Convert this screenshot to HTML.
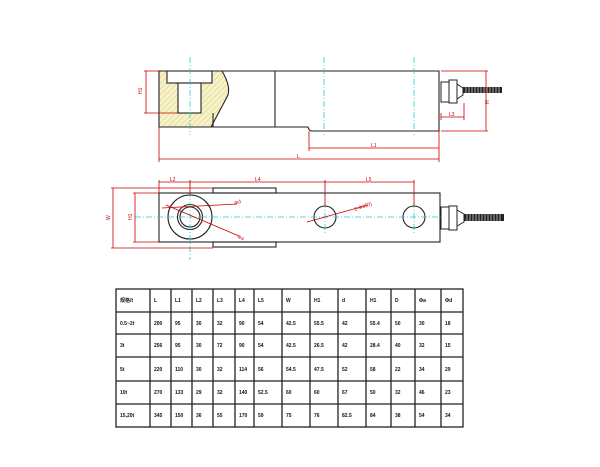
<!DOCTYPE html>
<html><head><meta charset="utf-8"><style>
html,body{margin:0;padding:0;background:#fff;width:600px;height:467px;overflow:hidden}
svg{display:block}
.t{font-family:"Liberation Sans","Noto Sans CJK SC",sans-serif;font-size:5px;font-weight:bold;fill:#111}
.r{font-family:"Liberation Sans",sans-serif;font-size:5px;fill:#c00}
</style></head><body>
<svg width="600" height="467" viewBox="0 0 600 467" xmlns="http://www.w3.org/2000/svg">
<defs>
<pattern id="h" width="4" height="4" patternUnits="userSpaceOnUse" patternTransform="rotate(45)">
<rect width="4" height="4" fill="#f7f2c8"/><line x1="0" y1="0" x2="0" y2="4" stroke="#d8c880" stroke-width="1"/></pattern>
</defs>
<path d="M159 71 L222 71 Q232 88 227 97 L211 127 L159 127 Z" fill="url(#h)"/>
<g fill="none" stroke="#222" stroke-width="1.1">
<path d="M159 71 L439 71 L439 131 L312 131 Q309 131 308 127 L159 127 Z"/>
<line x1="275" y1="71" x2="275" y2="127"/>
<path d="M222 71 Q232 88 227 97 L211 127"/>
<line x1="213" y1="113" x2="213" y2="127"/>
<rect x="167" y="71" width="45" height="12" fill="#fff"/>
<rect x="178" y="83" width="23" height="30" fill="#fff"/>
</g>
<g stroke="#2cc" stroke-width="0.8" stroke-dasharray="6,2,1,2">
<line x1="190" y1="57" x2="190" y2="135"/><line x1="324" y1="57" x2="324" y2="135"/><line x1="414" y1="57" x2="414" y2="135"/>
</g>
<g fill="#fff" stroke="#222" stroke-width="1">
<rect x="441" y="82" width="8" height="20"/><rect x="449" y="80" width="8" height="23"/><path d="M457 84 L463 88 L463 95 L457 99 Z"/>
</g>
<rect x="463" y="87" width="39" height="6" fill="#222"/>
<g stroke="#fff" stroke-width="0.6"><path d="M466 87v6M469 87v6M472 87v6M475 87v6M478 87v6M481 87v6M484 87v6M487 87v6M490 87v6M493 87v6M496 87v6M499 87v6"/></g>
<g stroke="#c00" stroke-width="0.8" fill="none">
<path d="M144 71 H159 M144 113 H178 M146 71 V113"/>
<path d="M441 71 H488 M441 131 H488 M486 71 V131"/>
<path d="M441 113 V120 M464 103 V120 M441 117 H464"/>
<path d="M159 127 V162 M439 131 V162 M309 131 V151 M309 148 H439 M159 159 H439"/>
</g>
<text class="r" x="142" y="94" transform="rotate(-90 142 94)">H1</text>
<text class="r" x="489" y="104" transform="rotate(-90 489 104)">H</text>
<text class="r" x="449" y="116">L3</text>
<text class="r" x="371" y="147">L1</text>
<text class="r" x="297" y="158">L</text>
<g fill="none" stroke="#222" stroke-width="1.1">
<rect x="159" y="193" width="281" height="49"/>
<rect x="213" y="188" width="63" height="5"/><rect x="213" y="242" width="63" height="5"/>
<circle cx="190" cy="217" r="22"/><circle cx="190" cy="217" r="12.5"/><circle cx="190" cy="217" r="10"/>
<circle cx="325" cy="217" r="11"/><circle cx="414" cy="217" r="11"/>
</g>
<g stroke="#2cc" stroke-width="0.8" stroke-dasharray="6,2,1,2">
<line x1="135" y1="217" x2="462" y2="217"/>
<line x1="190" y1="180" x2="190" y2="260"/><line x1="325" y1="180" x2="325" y2="235"/><line x1="414" y1="180" x2="414" y2="235"/>
</g>
<g fill="#fff" stroke="#222" stroke-width="1">
<rect x="441" y="207" width="8" height="22"/><rect x="449" y="206" width="8" height="24"/><path d="M457 210 L464 214 L464 222 L457 226 Z"/>
</g>
<rect x="464" y="214" width="40" height="7" fill="#222"/>
<g stroke="#fff" stroke-width="0.6"><path d="M467 214v7M470 214v7M473 214v7M476 214v7M479 214v7M482 214v7M485 214v7M488 214v7M491 214v7M494 214v7M497 214v7M500 214v7"/></g>
<g stroke="#c00" stroke-width="0.8" fill="none">
<path d="M159 180 V193 M190 180 V195 M325 180 V206 M414 180 V206 M159 182 H414"/>
<path d="M111 188 H213 M111 248 H213 M113 188 V248"/>
<path d="M133 193 H159 M133 242 H159 M135 193 V242"/>
<path d="M162 208 L237 204 M166 205 L239 236 M307 222 L368 205"/>
</g>
<text class="r" x="170" y="181">L2</text>
<text class="r" x="255" y="181">L4</text>
<text class="r" x="366" y="181">L5</text>
<text class="r" x="110" y="220" transform="rotate(-90 110 220)">W</text>
<text class="r" x="132" y="220" transform="rotate(-90 132 220)">H1</text>
<text class="r" x="235" y="205" transform="rotate(-20 235 205)">Φd</text>
<text class="r" x="237" y="238" transform="rotate(20 237 238)">Φa</text>
<text class="r" x="355" y="211" transform="rotate(-20 355 211)">2-Φd(D)</text>
<g stroke="#222" stroke-width="1.3" fill="none">
<rect x="116" y="289" width="347" height="138"/>
<path d="M116 312H463M116 334H463M116 357H463M116 381H463M116 404H463"/>
<path d="M150 289V427M171 289V427M192 289V427M213 289V427M235 289V427M254 289V427M282 289V427M310 289V427M338 289V427M366 289V427M391 289V427M415 289V427M441 289V427"/>
</g>
<g class="t">
<text y="302"><tspan x="120">规格/t</tspan><tspan x="154">L</tspan><tspan x="175">L1</tspan><tspan x="196">L2</tspan><tspan x="217">L3</tspan><tspan x="239">L4</tspan><tspan x="258">L5</tspan><tspan x="286">W</tspan><tspan x="314">H1</tspan><tspan x="342">d</tspan><tspan x="370">H1</tspan><tspan x="395">D</tspan><tspan x="419">Φa</tspan><tspan x="445">Φd</tspan></text>
<text y="325"><tspan x="120">0.5~2t</tspan><tspan x="154">200</tspan><tspan x="175">95</tspan><tspan x="196">30</tspan><tspan x="217">32</tspan><tspan x="239">90</tspan><tspan x="258">54</tspan><tspan x="286">42.5</tspan><tspan x="314">55.5</tspan><tspan x="342">42</tspan><tspan x="370">55.4</tspan><tspan x="395">50</tspan><tspan x="419">30</tspan><tspan x="445">18</tspan></text>
<text y="347"><tspan x="120">3t</tspan><tspan x="154">256</tspan><tspan x="175">95</tspan><tspan x="196">30</tspan><tspan x="217">72</tspan><tspan x="239">90</tspan><tspan x="258">54</tspan><tspan x="286">42.5</tspan><tspan x="314">26.5</tspan><tspan x="342">42</tspan><tspan x="370">28.4</tspan><tspan x="395">40</tspan><tspan x="419">32</tspan><tspan x="445">15</tspan></text>
<text y="371"><tspan x="120">5t</tspan><tspan x="154">220</tspan><tspan x="175">110</tspan><tspan x="196">30</tspan><tspan x="217">32</tspan><tspan x="239">114</tspan><tspan x="258">56</tspan><tspan x="286">54.5</tspan><tspan x="314">47.5</tspan><tspan x="342">52</tspan><tspan x="370">58</tspan><tspan x="395">22</tspan><tspan x="419">34</tspan><tspan x="445">29</tspan></text>
<text y="394"><tspan x="120">10t</tspan><tspan x="154">270</tspan><tspan x="175">133</tspan><tspan x="196">29</tspan><tspan x="217">32</tspan><tspan x="239">140</tspan><tspan x="258">52.5</tspan><tspan x="286">60</tspan><tspan x="314">60</tspan><tspan x="342">67</tspan><tspan x="370">50</tspan><tspan x="395">32</tspan><tspan x="419">46</tspan><tspan x="445">23</tspan></text>
<text y="417"><tspan x="120">15,20t</tspan><tspan x="154">345</tspan><tspan x="175">150</tspan><tspan x="196">36</tspan><tspan x="217">55</tspan><tspan x="239">170</tspan><tspan x="258">59</tspan><tspan x="286">75</tspan><tspan x="314">76</tspan><tspan x="342">82.5</tspan><tspan x="370">84</tspan><tspan x="395">38</tspan><tspan x="419">54</tspan><tspan x="445">34</tspan></text>
</g>
</svg>
</body></html>
